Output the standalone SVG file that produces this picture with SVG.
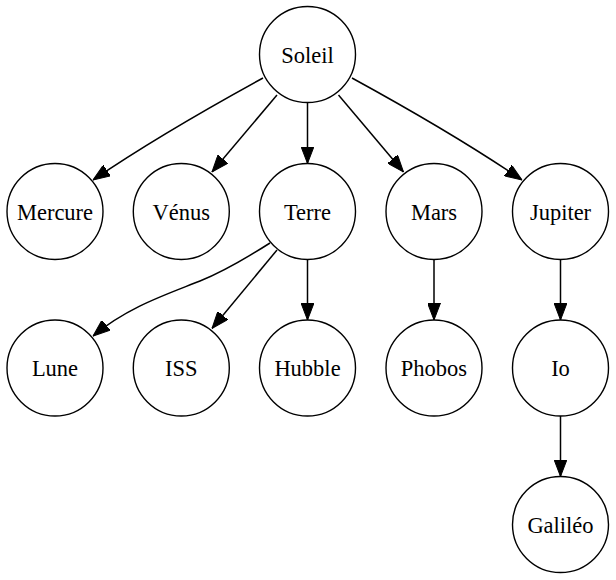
<svg xmlns="http://www.w3.org/2000/svg" width="616" height="580" viewBox="0 0 616 580">
<style>
.n circle{fill:#fff;stroke:#000;stroke-width:1.4}
.n text{font-family:'Liberation Serif','Times New Roman',serif;font-size:22.5px;text-anchor:middle;fill:#000}
.e path{fill:none;stroke:#000;stroke-width:1.5}
</style>
<defs>
<marker id="ah" viewBox="0 0 17 13" refX="17" refY="6.5" markerWidth="17" markerHeight="13" markerUnits="userSpaceOnUse" orient="auto">
<path d="M0,0 L17,6.5 L0,13 z" fill="#000" stroke="#000" stroke-width="1"/>
</marker>
</defs>
<rect width="616" height="580" fill="#fff"/>
<g id="edges" class="e">
<path d="M263,78 C210,107 140,148 93,180" marker-end="url(#ah)"/>
<path d="M277,95 L212,172" marker-end="url(#ah)"/>
<path d="M307.5,103 L307.5,163.5" marker-end="url(#ah)"/>
<path d="M338.5,95 L403.5,172" marker-end="url(#ah)"/>
<path d="M352,78 C405,107 475,148 522,180" marker-end="url(#ah)"/>
<path d="M270,243 C248,257 225,271 200,281 C165,295 128,307 93,336" marker-end="url(#ah)"/>
<path d="M277,250 L212,328.5" marker-end="url(#ah)"/>
<path d="M307.5,259.5 L307.5,320" marker-end="url(#ah)"/>
<path d="M434,259.5 L434,320" marker-end="url(#ah)"/>
<path d="M560.5,259.5 L560.5,320" marker-end="url(#ah)"/>
<path d="M560.5,416 L560.5,476.5" marker-end="url(#ah)"/>
</g>
<g id="soleil" class="n"><circle cx="307.5" cy="54.5" r="48"/><text x="307.5" y="62.5">Soleil</text></g>
<g id="mercure" class="n"><circle cx="55" cy="211.5" r="48"/><text x="55" y="219.5">Mercure</text></g>
<g id="venus" class="n"><circle cx="181.3" cy="211.5" r="48"/><text x="181.3" y="219.5">Vénus</text></g>
<g id="terre" class="n"><circle cx="307.5" cy="211.5" r="48"/><text x="307.5" y="219.5">Terre</text></g>
<g id="mars" class="n"><circle cx="434" cy="211.5" r="48"/><text x="434" y="219.5">Mars</text></g>
<g id="jupiter" class="n"><circle cx="560.5" cy="211.5" r="48"/><text x="560.5" y="219.5">Jupiter</text></g>
<g id="lune" class="n"><circle cx="55" cy="368" r="48"/><text x="55" y="376">Lune</text></g>
<g id="iss" class="n"><circle cx="181.3" cy="368" r="48"/><text x="181.3" y="376">ISS</text></g>
<g id="hubble" class="n"><circle cx="307.5" cy="368" r="48"/><text x="307.5" y="376">Hubble</text></g>
<g id="phobos" class="n"><circle cx="434" cy="368" r="48"/><text x="434" y="376">Phobos</text></g>
<g id="io" class="n"><circle cx="560.5" cy="368" r="48"/><text x="560.5" y="376">Io</text></g>
<g id="galileo" class="n"><circle cx="560.5" cy="524.5" r="48"/><text x="560.5" y="532.5">Galiléo</text></g>
</svg>
